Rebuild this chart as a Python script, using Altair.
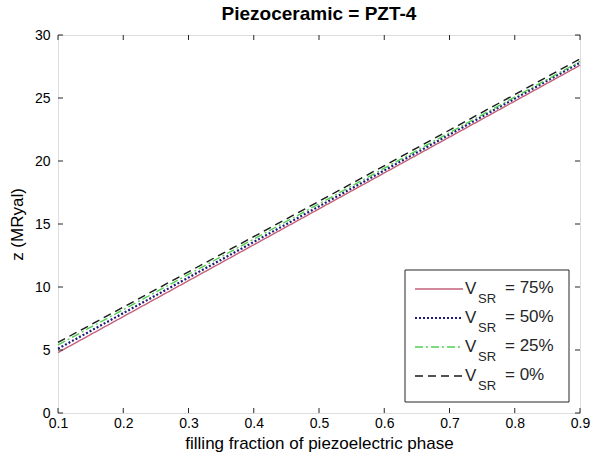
import altair as alt
import pandas as pd

# Acoustic impedance vs. filling fraction for PZT-4 composites
fraction = [0.1, 0.5, 0.9]
z_vsr75 = [4.8, 16.2, 27.6]
z_vsr50 = [5.1, 16.4, 27.8]
z_vsr25 = [5.4, 16.6, 27.9]
z_vsr0 = [5.6, 16.8, 28.1]

series_names = ["75%", "50%", "25%", "0%"]
series_values = [z_vsr75, z_vsr50, z_vsr25, z_vsr0]
series_colors = ["#c4607a", "#1c1c78", "#4fd14f", "#1a1a1a"]
series_dash = [[1, 0], [2, 2], [8, 3, 2, 3], [8, 5]]
series_width = [1.4, 2.2, 1.4, 1.4]

x_ticks = [0.1, 0.2, 0.3, 0.4, 0.5, 0.6, 0.7, 0.8, 0.9]
y_ticks = [0, 5, 10, 15, 20, 25, 30]

W, H = 522, 378
FONT = "Liberation Sans"
AXIS_COLOR = "#262626"

x_scale = alt.Scale(domain=[0.1, 0.9], nice=False, zero=False)
y_scale = alt.Scale(domain=[0, 30], nice=False)

x_axis = alt.Axis(values=x_ticks, format=".1f", title="filling fraction of piezoelectric phase",
                  ticks=False, domain=False, grid=False, labelFlush=False, labelPadding=3,
                  titlePadding=5, labelFontSize=14, titleFontSize=17, titleFontWeight="normal")
y_axis = alt.Axis(values=y_ticks, format="d", title="z (MRyal)",
                  ticks=False, domain=False, grid=False, labelFlush=False, labelPadding=8,
                  titlePadding=8, labelFontSize=14, titleFontSize=17, titleFontWeight="normal")

layers = []
for i, (name, vals) in enumerate(zip(series_names, series_values)):
    df = pd.DataFrame({"fraction": fraction, "z": vals})
    layer = alt.Chart(df).mark_line(
        color=series_colors[i], strokeDash=series_dash[i], strokeWidth=series_width[i]
    ).encode(
        x=alt.X("fraction:Q", scale=x_scale, axis=x_axis),
        y=alt.Y("z:Q", scale=y_scale, axis=y_axis),
    )
    layers.append(layer)

# Inward-pointing ticks on all four sides of the box
xt = pd.DataFrame({"fraction": x_ticks})
yt = pd.DataFrame({"z": y_ticks})
tick_len = 5
tick_style = dict(color=AXIS_COLOR, strokeWidth=1)
layers += [
    alt.Chart(xt).mark_rule(**tick_style).encode(
        x=alt.X("fraction:Q", scale=x_scale, axis=x_axis), y=alt.value(H), y2=alt.value(H - tick_len)),
    alt.Chart(xt).mark_rule(**tick_style).encode(
        x=alt.X("fraction:Q", scale=x_scale, axis=x_axis), y=alt.value(0), y2=alt.value(tick_len)),
    alt.Chart(yt).mark_rule(**tick_style).encode(
        y=alt.Y("z:Q", scale=y_scale, axis=y_axis), x=alt.value(0), x2=alt.value(tick_len)),
    alt.Chart(yt).mark_rule(**tick_style).encode(
        y=alt.Y("z:Q", scale=y_scale, axis=y_axis), x=alt.value(W), x2=alt.value(W - tick_len)),
]

# Legend box with subscripted labels
box_x0, box_x1, box_y0, box_y1 = 347, 511, 235, 367
row_y0, row_step = 254, 29
legend_anchor = alt.Chart(pd.DataFrame({"a": [0]}))
layers.append(
    legend_anchor.mark_rect(fill="white", stroke=AXIS_COLOR, strokeWidth=1).encode(
        x=alt.value(box_x0), x2=alt.value(box_x1), y=alt.value(box_y0), y2=alt.value(box_y1))
)
for i, name in enumerate(series_names):
    ry = row_y0 + i * row_step
    layers.append(
        legend_anchor.mark_rule(color=series_colors[i], strokeDash=series_dash[i],
                                strokeWidth=series_width[i]).encode(
            x=alt.value(357), x2=alt.value(405), y=alt.value(ry))
    )
    layers.append(
        legend_anchor.mark_text(align="left", baseline="alphabetic", font=FONT, fontSize=17,
                                color=AXIS_COLOR).encode(
            x=alt.value(407), y=alt.value(ry + 5), text=alt.value("V"))
    )
    layers.append(
        legend_anchor.mark_text(align="left", baseline="alphabetic", font=FONT, fontSize=13,
                                color=AXIS_COLOR).encode(
            x=alt.value(420), y=alt.value(ry + 14), text=alt.value("SR"))
    )
    layers.append(
        legend_anchor.mark_text(align="left", baseline="alphabetic", font=FONT, fontSize=17,
                                color=AXIS_COLOR).encode(
            x=alt.value(447), y=alt.value(ry + 4), text=alt.value("= " + name))
    )

chart = alt.layer(*layers).properties(
    width=W, height=H,
    title=alt.TitleParams("Piezoceramic = PZT-4", fontSize=19, fontWeight="bold",
                          font=FONT, color="black", offset=4),
    autosize=alt.AutoSizeParams(type="none"),
    padding={"left": 58, "top": 35, "right": 12, "bottom": 50},
).configure_view(
    stroke=AXIS_COLOR, strokeWidth=1
).configure_axis(
    labelFont=FONT, titleFont=FONT, labelColor=AXIS_COLOR, titleColor=AXIS_COLOR
).configure(background="white")

chart.save("out.html", embed_options={"renderer": "svg", "actions": False})
